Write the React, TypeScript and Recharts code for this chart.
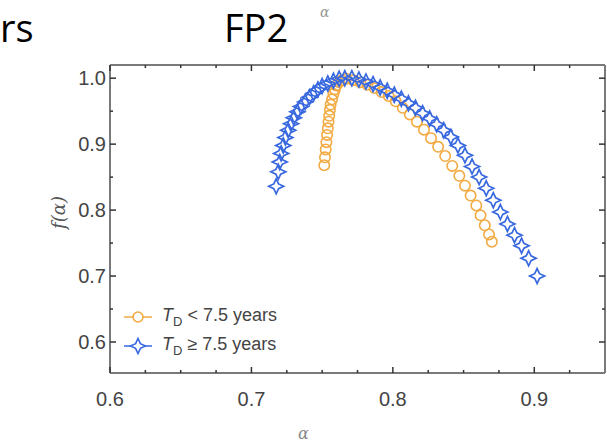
import React from 'react';
import { ScatterChart, Scatter, XAxis, YAxis, ReferenceLine } from 'recharts';

// ---- data ----
const shortX = [0.7515, 0.752, 0.7525, 0.753, 0.7535, 0.754, 0.7545, 0.755, 0.7555, 0.756, 0.757, 0.758, 0.759, 0.760, 0.762, 0.764,
  0.767, 0.772, 0.777, 0.782, 0.787, 0.792, 0.797, 0.802, 0.807, 0.812, 0.817, 0.822, 0.827, 0.832, 0.837, 0.842, 0.847, 0.851, 0.855, 0.859, 0.862, 0.865, 0.868, 0.870];
const shortY = [0.868, 0.880, 0.892, 0.903, 0.914, 0.924, 0.934, 0.943, 0.952, 0.960, 0.968, 0.976, 0.983, 0.989, 0.994, 0.997,
  0.999, 0.997, 0.994, 0.990, 0.985, 0.979, 0.973, 0.965, 0.955, 0.945, 0.934, 0.922, 0.909, 0.896, 0.882, 0.867, 0.852, 0.837, 0.822, 0.807, 0.792, 0.777, 0.763, 0.752];

const longX = [0.7175, 0.719, 0.720, 0.721, 0.7225, 0.724, 0.726, 0.728, 0.730, 0.7325, 0.735, 0.738, 0.741, 0.744, 0.747, 0.750, 0.754, 0.758, 0.762, 0.766, 0.771,
  0.776, 0.781, 0.786, 0.791, 0.796, 0.801, 0.806, 0.811, 0.816, 0.821, 0.826, 0.831, 0.836, 0.841, 0.846, 0.851, 0.856, 0.861, 0.866, 0.871, 0.876, 0.881, 0.886, 0.891, 0.896, 0.902];
const longY = [0.836, 0.858, 0.873, 0.886, 0.898, 0.910, 0.921, 0.931, 0.940, 0.949, 0.957, 0.964, 0.971, 0.977, 0.983, 0.988, 0.992, 0.996, 0.999, 1.0, 1.0,
  0.998, 0.995, 0.991, 0.986, 0.981, 0.975, 0.969, 0.962, 0.955, 0.947, 0.939, 0.930, 0.921, 0.911, 0.898, 0.883, 0.866, 0.850, 0.833, 0.815, 0.797, 0.779, 0.762, 0.746, 0.727, 0.700];

const xTicks = [0.6, 0.625, 0.65, 0.675, 0.7, 0.725, 0.75, 0.775, 0.8, 0.825, 0.85, 0.875, 0.9, 0.925];
const xMajor = [0.6, 0.7, 0.8, 0.9];
const yTicks = [0.6, 0.65, 0.7, 0.75, 0.8, 0.85, 0.9, 0.95, 1.0];
const yMajor = [0.6, 0.7, 0.8, 0.9, 1.0];
const X_DOMAIN = [0.6, 0.95];
const Y_DOMAIN = [0.553, 1.02];

const seriesNames = ['T_D < 7.5 years', 'T_D ≥ 7.5 years'];
const seriesRest = [' < 7.5 years', ' ≥ 7.5 years'];

const shortData = shortX.map((x, i) => ({ x, y: shortY[i] }));
const longData = longX.map((x, i) => ({ x, y: longY[i] }));

// ---- styles ----
const ORANGE = '#f2aa42';
const BLUE = '#3868e0';
const AXIS = '#7a7a7a';
const PLOT_W = 495;
const PLOT_H = 308;
const tickFont = '"Liberation Sans", Arial, sans-serif';

const isMajor = (v: number, arr: number[]) => arr.some((m) => Math.abs(m - v) < 1e-6);

const XTick = (props: any) => {
  const { x, y, payload } = props;
  const major = isMajor(payload.value, xMajor);
  const len = major ? 6 : 3;
  return (
    <g>
      <line x1={x} y1={y} x2={x} y2={y - len} stroke="#333" strokeWidth={1.5} />
      <line x1={x} y1={y - PLOT_H} x2={x} y2={y - PLOT_H + len} stroke="#333" strokeWidth={1.5} />
      {major && (
        <text x={x} y={y + 33} textAnchor="middle" fontFamily={tickFont} fontSize={20} fill="#444">
          {payload.value.toFixed(1)}
        </text>
      )}
    </g>
  );
};

const YTick = (props: any) => {
  const { x, y, payload } = props;
  const major = isMajor(payload.value, yMajor);
  const len = major ? 6 : 3;
  return (
    <g>
      <line x1={x} y1={y} x2={x + len} y2={y} stroke="#333" strokeWidth={1.5} />
      <line x1={x + PLOT_W} y1={y} x2={x + PLOT_W - len} y2={y} stroke="#333" strokeWidth={1.5} />
      {major && (
        <text x={x - 4} y={y + 7} textAnchor="end" fontFamily={tickFont} fontSize={20} fill="#444">
          {payload.value.toFixed(1)}
        </text>
      )}
    </g>
  );
};

const Circle = (props: any) => {
  const { cx, cy } = props;
  if (cx == null || cy == null) return null;
  return <circle cx={cx} cy={cy} r={5.2} fill="none" stroke={ORANGE} strokeWidth={1.6} />;
};

const starPath = (cx: number, cy: number, r: number) => {
  const a = r * 0.32;
  return `M${cx},${cy - r} L${cx + a},${cy - a} L${cx + r},${cy} L${cx + a},${cy + a} L${cx},${cy + r} L${cx - a},${cy + a} L${cx - r},${cy} L${cx - a},${cy - a} Z`;
};

const Star = (props: any) => {
  const { cx, cy } = props;
  if (cx == null || cy == null) return null;
  return <path d={starPath(cx, cy, 7.5)} fill="none" stroke={BLUE} strokeWidth={1.7} />;
};

const LegendBox = () => {
  const colors = [ORANGE, BLUE];
  return (
    <div style={{ position: 'absolute', left: 120, top: 302, fontFamily: tickFont, fontSize: 18, color: '#444' }}>
      {seriesRest.map((rest, i) => (
        <div key={i} style={{ display: 'flex', alignItems: 'center', height: 29 }}>
          <svg width={36} height={20} style={{ marginRight: 6 }}>
            <line x1={4} y1={10} x2={32} y2={10} stroke={colors[i]} strokeWidth={1.5} />
            {i === 0 ? (
              <circle cx={18} cy={10} r={5} fill="#fff" stroke={ORANGE} strokeWidth={1.6} />
            ) : (
              <path d={starPath(18, 10, 7.5)} fill="#fff" stroke={BLUE} strokeWidth={1.6} />
            )}
          </svg>
          <span>
            <i>T</i>
            <sub style={{ fontSize: 13 }}>D</sub>
            {rest}
          </span>
        </div>
      ))}
    </div>
  );
};

export default function App() {
  return (
    <div style={{ position: 'absolute', left: 0, top: 0, width: 607, height: 445, background: '#fff', overflow: 'hidden' }}>
      <div style={{ position: 'absolute', left: 0, top: 8, fontFamily: '"Open Sans", sans-serif', fontSize: 38, color: '#000', lineHeight: 1 }}>rs</div>
      <div style={{ position: 'absolute', left: 224, top: 8, fontFamily: '"Open Sans", sans-serif', fontSize: 38, color: '#000', lineHeight: 1 }}>FP2</div>
      <div style={{ position: 'absolute', left: 320, top: 4, fontFamily: '"DejaVu Serif", serif', fontStyle: 'italic', fontSize: 14, color: '#999' }}>α</div>
      <div style={{ position: 'absolute', left: 298, top: 424, fontFamily: '"DejaVu Serif", serif', fontStyle: 'italic', fontSize: 16, color: '#888' }}>α</div>
      <div style={{ position: 'absolute', left: 42, top: 202, transform: 'rotate(-90deg)', fontFamily: '"DejaVu Serif", serif', fontStyle: 'italic', fontSize: 18, color: '#555' }}>f(α)</div>
      <ScatterChart width={607} height={445} margin={{ top: 65, right: 2, bottom: 0, left: 0 }} style={{ position: 'absolute', left: 0, top: 0 }}>
        <XAxis
          type="number"
          dataKey="x"
          domain={X_DOMAIN}
          ticks={xTicks}
          allowDataOverflow
          height={72}
          tickSize={0}
          tickMargin={0}
          tickLine={false}
          axisLine={{ stroke: AXIS, strokeWidth: 2 }}
          tick={<XTick />}
          interval={0}
        />
        <YAxis
          type="number"
          dataKey="y"
          domain={Y_DOMAIN}
          ticks={yTicks}
          allowDataOverflow
          width={110}
          tickSize={0}
          tickMargin={0}
          tickLine={false}
          axisLine={{ stroke: AXIS, strokeWidth: 2 }}
          tick={<YTick />}
          interval={0}
        />
        <ReferenceLine y={Y_DOMAIN[1]} stroke={AXIS} strokeWidth={2} />
        <ReferenceLine x={X_DOMAIN[1]} stroke={AXIS} strokeWidth={2} />
        <Scatter name={seriesNames[0]} data={shortData} shape={<Circle />} isAnimationActive={false} />
        <Scatter name={seriesNames[1]} data={longData} shape={<Star />} isAnimationActive={false} />
      </ScatterChart>
      <LegendBox />
    </div>
  );
}
